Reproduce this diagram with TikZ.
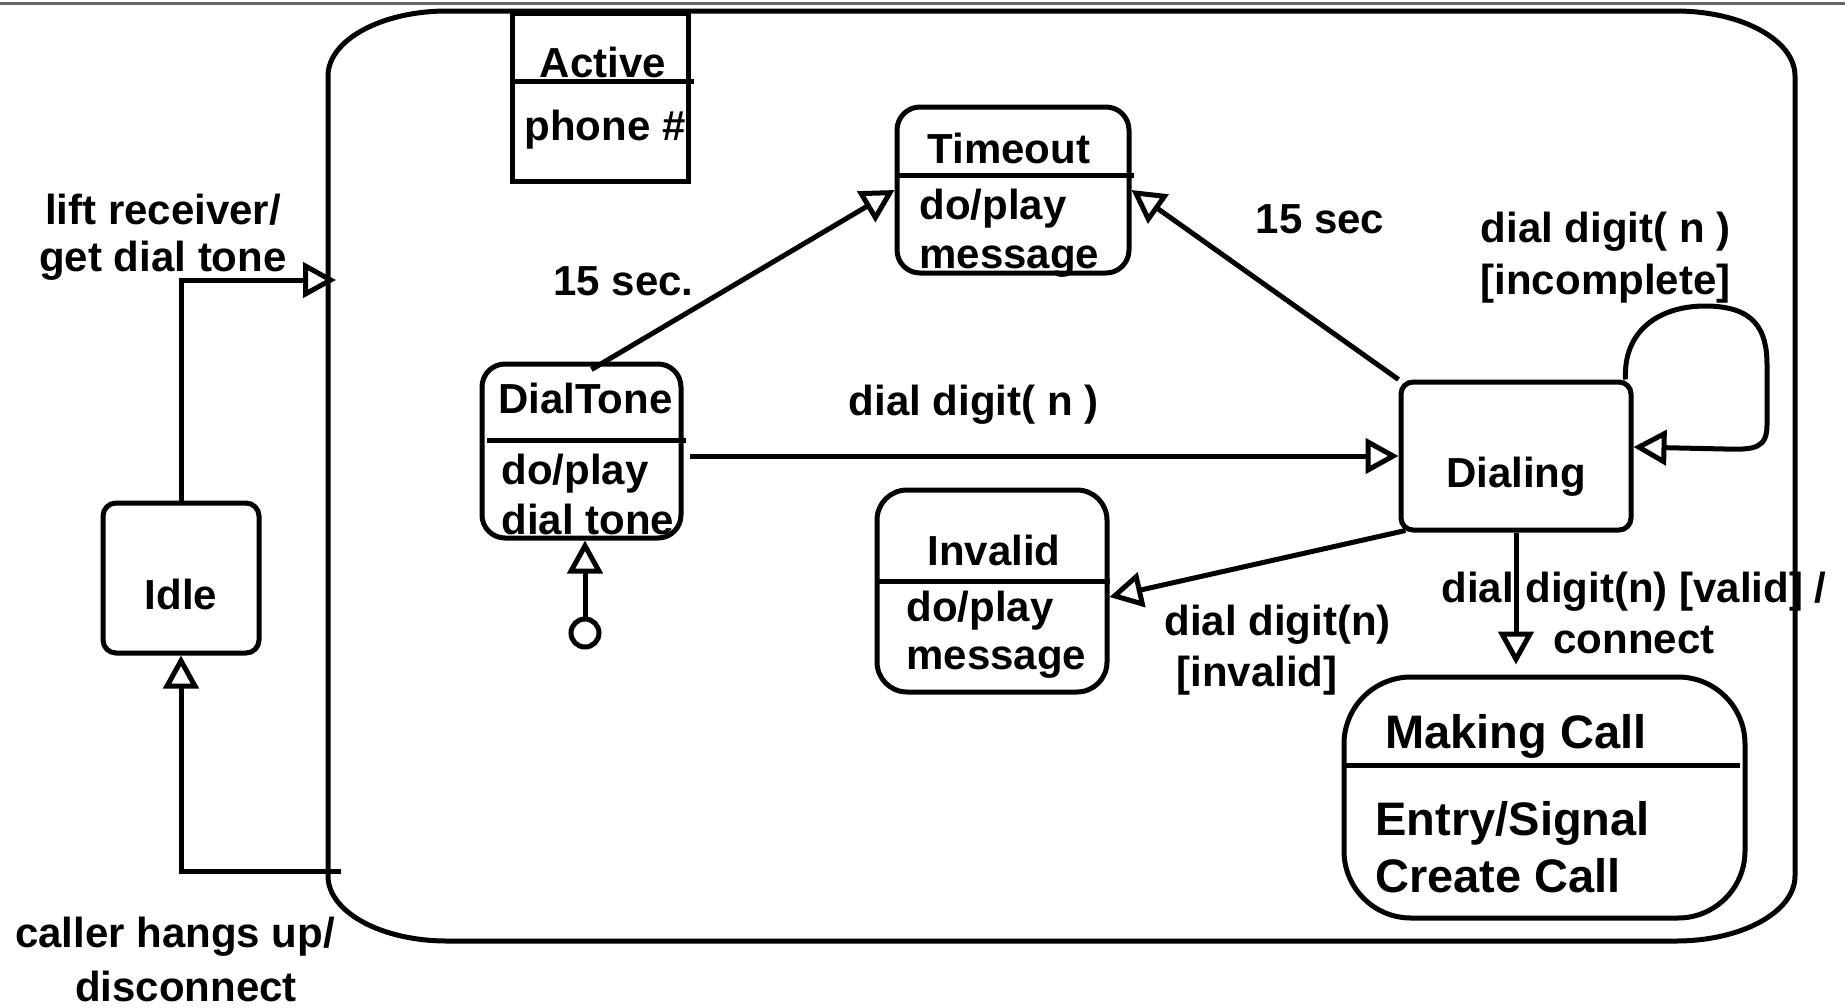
\documentclass[tikz,border=0pt]{standalone}
\usepackage{fontspec}
\setmainfont{Liberation Sans}
\usepackage{tikz}
\usetikzlibrary{arrows.meta, automata, positioning}

\begin{document}
\begin{tikzpicture}[>={Triangle[open, length=33pt, width=35pt]}, shorten >= 0pt,
                    x=1pt, y=-1pt, line width=5pt]
\tikzstyle{every state}=[shape=rectangle, draw=black, line width=5pt,
                    inner sep=0pt, minimum size=0pt]
\tikzset{stname/.style={anchor=base, inner sep=0pt,
                    font=\bfseries\fontsize{42}{50}\selectfont},
         stact/.style={anchor=north west, align=left, inner sep=0pt,
                    font=\bfseries\fontsize{42}{#1}\selectfont},
         stact/.default=50,
         trans/.style={align=center, inner sep=0pt,
                    font=\bfseries\fontsize{42}{#1}\selectfont},
         trans/.default=50}
  \path[use as bounding box, fill=white] (0,0) rectangle (1845,1007);
  \draw[black!60, line width=3pt] (0,3) -- (1845,3);
  %
  \draw (447,11) -- (1676,11) .. controls (1741.7,11) and (1795,40.1) .. (1795,76)
        -- (1795,876) .. controls (1795,911.9) and (1741.7,941) .. (1676,941)
        -- (447,941) .. controls (381.3,941) and (328,911.9) .. (328,876)
        -- (328,76) .. controls (328,40.1) and (381.3,11) .. (447,11) -- cycle;
  \coordinate (ActIn) at (336,280);
  \coordinate (ActOut) at (341,871);
  %
  \node[state, rounded corners=13pt, minimum width=156pt, minimum height=150pt] (Idle) at (181,578) {};
  \node[stname] (IdleN) at (181,609) {Idle};
  %
  \node[state, minimum width=176pt, minimum height=168pt] (Cls) at (600,97) {};
  \node[stname] (ClsN) at (603,77) {Active};
  \node[stname, anchor=base west] (ClsA) at (522,140) {phone \#};
  %
  \node[state, rounded corners=23pt, minimum width=232pt, minimum height=166pt] (TO) at (1013,190) {};
  \node[stname] (TON) at (1009,163) {Timeout};
  \node[stact=49] (TOA) at (917,187) {do/play\\message};
  %
  \node[state, rounded corners=23pt, minimum width=199pt, minimum height=174pt] (DT) at (581.5,451) {};
  \node[stname] (DTN) at (585.5,413) {DialTone};
  \node[stact=50] (DTA) at (499,452) {do/play\\dial tone};
  \node[circle, draw, minimum size=28pt, inner sep=0pt] (Init) at (585,633) {};
  %
  \node[state, rounded corners=12pt, minimum width=230pt, minimum height=148pt] (Dl) at (1516,456) {};
  \node[stname] (DlN) at (1516,487) {Dialing};
  %
  \node[state, rounded corners=30pt, minimum width=230pt, minimum height=202pt] (Inv) at (992,591) {};
  \node[stname] (InvN) at (994,565) {Invalid};
  \node[stact=48] (InvA) at (904,589) {do/play\\message};
  %
  \node[state, rounded corners=67pt, minimum width=401pt, minimum height=241pt] (MC) at (1544.5,797.5) {};
  \node[stname, anchor=base west, font=\bfseries\fontsize{47}{57}\selectfont] (MCN) at (1383,748) {Making Call};
  \node[stact, font=\bfseries\fontsize{47}{57}\selectfont] (MCA) at (1373,799) {Entry/Signal\\Create Call};
  \path (MC.north -| Dl.south) ++(0,-10) coordinate (MCin);
  %
  \draw ([yshift=-71pt]Cls.north west) -- ([yshift=-71pt, xshift=3pt]Cls.north east);
  \draw ([yshift=-71pt]TO.north west) -- ([yshift=-71pt, xshift=2pt]TO.north east);
  \draw ([yshift=-79pt, xshift=7pt]DT.north west) -- ([yshift=-79pt, xshift=2pt]DT.north east);
  \draw ([yshift=-94pt]Inv.north west) -- ([yshift=-94pt]Inv.north east);
  \draw ([yshift=-91pt]MC.north west) -- ([yshift=-91pt, xshift=-8pt]MC.north east);
  %
  \draw[->] (Idle.north) |- node[trans=47, xshift=-18pt, yshift=43pt] {lift receiver/\\get dial tone} (ActIn);
  \draw[->] (ActOut) -| node[trans=54, xshift=-6pt, yshift=-88pt] {caller hangs up/\\\hspace*{22pt}disconnect} (Idle.south);
  %
  \path[->]  (Init) edge (DT.south -| Init);
  \path[->]  ([xshift=10pt, yshift=-8pt]DT.north) edge node[trans, pos=0.3, xshift=-59pt, yshift=34pt] {15 sec.} (TO.west);
  \path[->]  (Dl.north west) edge node[trans, xshift=55pt, yshift=65pt] {15 sec} (TO.east);
  \path[->]  ([xshift=6pt]DT.east |- Dl.west) edge node[trans, xshift=-70.5pt, yshift=51pt] {dial digit( n )} (Dl.west);
  \path[->]  ([xshift=7pt, yshift=2pt]Dl.south west) edge node[trans=51, align=left, xshift=20pt, yshift=-86pt] {dial digit(n)\\\hspace*{12pt}[invalid]} ([yshift=-6pt]Inv.east);
  \path[->]  (Dl.south) edge node[trans=51, xshift=118pt, yshift=-14pt] {dial digit(n) [valid] /\\connect} (MCin);
  %
  \draw[->] ([xshift=-8pt]Dl.north east) node[trans=52, xshift=-20pt, yshift=122pt] {dial digit( n )\\{[incomplete]}}
        .. controls (1623,330) and (1660,306) .. (1705,306)
        .. controls (1755,306) and (1767,330) .. (1767,365) -- (1767,425)
        .. controls (1767,448) and (1755,450) .. (1725,449)
        -- ([yshift=9pt]Dl.east);
\end{tikzpicture}
\end{document}
